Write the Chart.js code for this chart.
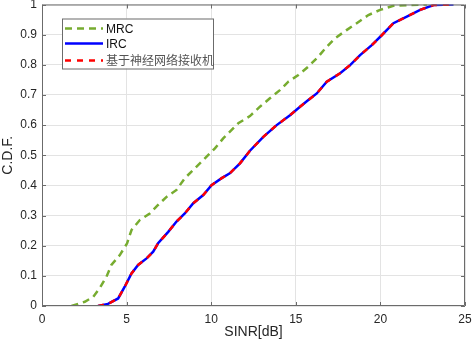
<!DOCTYPE html>
<html>
<head>
<meta charset="utf-8">
<script src="https://cdn.jsdelivr.net/npm/chart.js@4"></script>
<style>
  html, body { margin: 0; padding: 0; background: #fff; }
  #wrap { width: 472px; height: 346px; }
</style>
</head>
<body>
<div id="wrap"><canvas id="cdfChart" width="472" height="346"></canvas></div>
<script>
// values
const mrcX = [1.74, 2.53, 3.02, 3.41, 3.81, 4.1, 4.6, 5.03, 5.29, 5.78, 6.37, 6.86, 7.36, 7.95, 8.44, 9.04, 9.53, 10.22, 10.71, 11.6, 12.29, 12.88, 13.47, 14.06, 14.56, 15.15, 15.74, 16.33, 16.83, 17.32, 18.0, 18.6, 19.29, 19.98, 20.77, 21.76, 22.75];
const mrcY = [0, 0.014, 0.03, 0.059, 0.097, 0.136, 0.169, 0.208, 0.252, 0.285, 0.307, 0.335, 0.362, 0.385, 0.424, 0.457, 0.484, 0.523, 0.556, 0.606, 0.63, 0.661, 0.689, 0.716, 0.744, 0.766, 0.794, 0.827, 0.86, 0.888, 0.915, 0.938, 0.965, 0.982, 0.996, 0.998, 1.0];

const ircX = [3.31, 3.9, 4.5, 4.89, 5.29, 5.68, 6.18, 6.57, 6.86, 7.46, 7.95, 8.44, 8.94, 9.53, 10.02, 10.62, 11.1, 11.7, 12.29, 13.08, 13.87, 14.66, 15.25, 15.74, 16.24, 16.83, 17.62, 18.21, 18.8, 19.49, 20.08, 20.77, 21.56, 22.35, 23.14, 24.32];
const ircY = [0, 0.007, 0.025, 0.064, 0.108, 0.136, 0.158, 0.18, 0.208, 0.246, 0.28, 0.307, 0.341, 0.368, 0.401, 0.424, 0.44, 0.473, 0.515, 0.561, 0.6, 0.633, 0.661, 0.683, 0.705, 0.744, 0.772, 0.799, 0.832, 0.865, 0.898, 0.938, 0.96, 0.982, 0.998, 1.0];

// neural receiver curve lies on top of IRC
const nnX = ircX.slice();
const nnY = ircY.slice();

const seriesNames = ["MRC", "IRC", "基于神经网络接收机"];
const xTickLabels = ["0", "5", "10", "15", "20", "25"];
const yTickLabels = ["0", "0.1", "0.2", "0.3", "0.4", "0.5", "0.6", "0.7", "0.8", "0.9", "1"];

const toPoints = (xs, ys) => xs.map((x, i) => ({ x: x, y: ys[i] }));

const FONT = "Arial, 'Liberation Sans', 'Noto Sans CJK SC', sans-serif";

// box + inward tick marks, like the matlab axes
const boxPlugin = {
  id: "box",
  afterDatasetsDraw(chart) {
    const { ctx, chartArea: a, scales } = chart;
    ctx.save();
    ctx.strokeStyle = "#6b6b6b";
    ctx.lineWidth = 1;
    ctx.beginPath();
    ctx.rect(a.left + 0.5, a.top + 0.5, a.right - a.left - 1, a.bottom - a.top - 1);
    const len = 4;
    scales.x.ticks.forEach((t) => {
      const px = Math.round(scales.x.getPixelForValue(t.value)) + 0.5;
      ctx.moveTo(px, a.bottom);
      ctx.lineTo(px, a.bottom - len);
      ctx.moveTo(px, a.top);
      ctx.lineTo(px, a.top + len);
    });
    scales.y.ticks.forEach((t) => {
      const py = Math.round(scales.y.getPixelForValue(t.value)) + 0.5;
      ctx.moveTo(a.left, py);
      ctx.lineTo(a.left + len, py);
      ctx.moveTo(a.right, py);
      ctx.lineTo(a.right - len, py);
    });
    ctx.stroke();
    ctx.restore();
  }
};

// legend box in upper left corner of the axes
const legendPlugin = {
  id: "insideLegend",
  afterDraw(chart) {
    const { ctx, chartArea: a } = chart;
    const x0 = a.left + 20, y0 = a.top + 14, w = 151, h = 50;
    ctx.save();
    ctx.fillStyle = "#fff";
    ctx.fillRect(x0, y0, w, h);
    ctx.strokeStyle = "#6b6b6b";
    ctx.lineWidth = 1;
    ctx.strokeRect(x0 + 0.5, y0 + 0.5, w, h);
    const rows = [y0 + 10, y0 + 25, y0 + 42];
    [0, 1, 2].forEach((i, r) => {
      const ds = chart.data.datasets[i];
      const yy = rows[r];
      ctx.beginPath();
      ctx.strokeStyle = ds.borderColor;
      ctx.lineWidth = ds.borderWidth;
      ctx.setLineDash(ds.borderDash || []);
      ctx.moveTo(x0 + 3, yy);
      ctx.lineTo(x0 + 41, yy);
      ctx.stroke();
      ctx.setLineDash([]);
      ctx.fillStyle = i === 2 ? "#555" : "#111";
      ctx.font = "12px " + FONT;
      ctx.textBaseline = "middle";
      ctx.textAlign = "left";
      ctx.fillText(ds.label, x0 + 44, yy + 1);
    });
    ctx.restore();
  }
};

new Chart(document.getElementById("cdfChart"), {
  type: "scatter",
  data: {
    datasets: [
      {
        label: seriesNames[0],
        data: toPoints(mrcX, mrcY),
        showLine: true,
        borderColor: "#77ac30",
        borderWidth: 2.5,
        borderDash: [7, 5],
        pointRadius: 0,
        order: 2
      },
      {
        label: seriesNames[1],
        data: toPoints(ircX, ircY),
        showLine: true,
        borderColor: "#0000ff",
        borderWidth: 2.5,
        pointRadius: 0,
        order: 1
      },
      {
        label: seriesNames[2],
        data: toPoints(nnX, nnY),
        showLine: true,
        borderColor: "#ff0000",
        borderWidth: 2.5,
        borderDash: [6, 6],
        pointRadius: 0,
        order: 0
      }
    ]
  },
  options: {
    responsive: false,
    animation: false,
    layout: { padding: 0 },
    plugins: {
      legend: { display: false },
      tooltip: { enabled: false }
    },
    scales: {
      x: {
        type: "linear",
        min: 0,
        max: 25,
        border: { display: false },
        grid: { color: "#e3e3e3", drawTicks: false },
        ticks: {
          stepSize: 5,
          padding: 6,
          color: "#262626",
          font: { family: FONT, size: 12 },
          callback: (v) => xTickLabels[v / 5]
        },
        title: {
          display: true,
          text: "SINR[dB]",
          color: "#262626",
          font: { family: FONT, size: 14 },
          padding: { top: 0, bottom: 5 }
        },
        afterFit: (s) => {
          s.height = 40;
          s.paddingLeft = 0;
          s.paddingRight = 7;
        }
      },
      y: {
        type: "linear",
        min: 0,
        max: 1,
        border: { display: false },
        grid: { color: "#e3e3e3", drawTicks: false },
        ticks: {
          stepSize: 0.1,
          padding: 5,
          color: "#262626",
          font: { family: FONT, size: 12 },
          callback: (v) => yTickLabels[Math.round(v * 10)]
        },
        title: {
          display: true,
          text: "C.D.F.",
          color: "#262626",
          font: { family: FONT, size: 14, lineHeight: 1.1 },
          padding: { top: 0, bottom: 0 }
        },
        afterFit: (s) => {
          s.width = 42;
          s.paddingTop = 4.5;
          s.paddingBottom = 0;
        }
      }
    }
  },
  plugins: [boxPlugin, legendPlugin]
});
</script>
</body>
</html>
